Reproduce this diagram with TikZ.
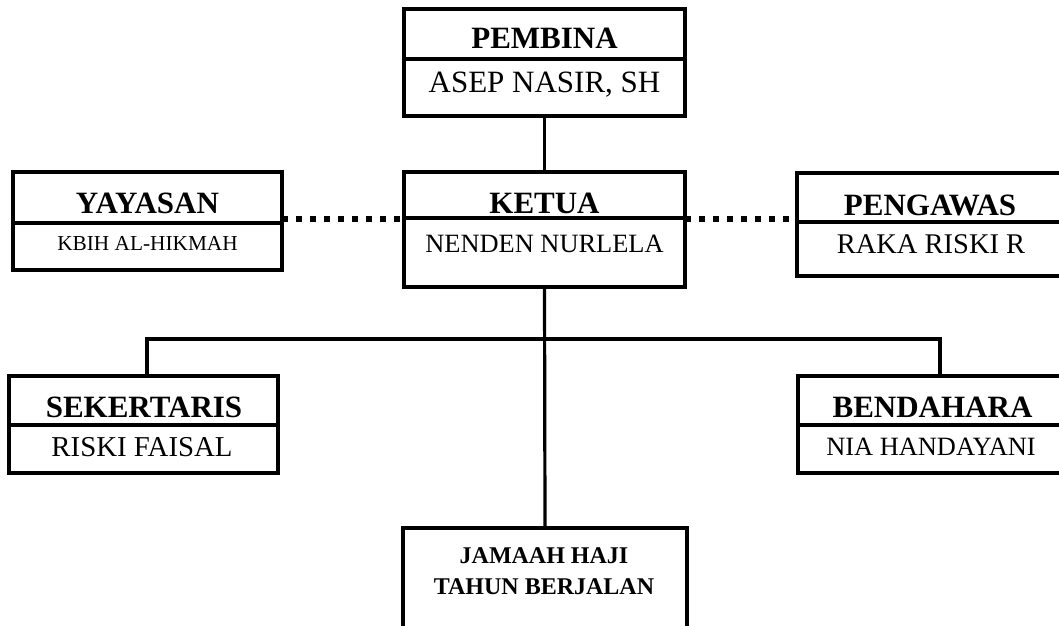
\documentclass[tikz,border=0pt]{standalone}
\usepackage{fontspec}
\setmainfont{Liberation Serif}
\begin{document}
\begin{tikzpicture}[x=1pt,y=-1pt,
  box/.style={draw, rectangle, line width=3.2pt, inner sep=0pt, outer sep=0pt},
  conn/.style={line width=3.2pt},
  dotline/.style={line width=5.5pt, dash pattern=on 6pt off 8pt},
  ttl/.style={anchor=base, inner sep=0pt, font=\fontsize{31}{31}\selectfont\bfseries},
  nm/.style={anchor=base, inner sep=0pt}]
\useasboundingbox (0,0) rectangle (1059,625);
\clip (0,0) rectangle (1059,625);
% boxes
\node[box, minimum width=281pt, minimum height=107pt] (pembina) at (544.5,62.5) {};
\node[box, minimum width=269pt, minimum height=98pt] (yayasan) at (147.5,221) {};
\node[box, minimum width=281pt, minimum height=115pt] (ketua) at (544.5,229.5) {};
\node[box, minimum width=266pt, minimum height=103pt] (pengawas) at (930,224.5) {};
\node[box, minimum width=269pt, minimum height=97pt] (sek) at (143.5,424.5) {};
\node[box, minimum width=268pt, minimum height=97pt] (bend) at (932,424.5) {};
\node[box, minimum width=284pt, minimum height=112pt] (jamaah) at (545,584) {};
% dividers
\draw[conn] (pembina.west |- 0,59) -- (pembina.east |- 0,59);
\draw[conn] (yayasan.west |- 0,223) -- (yayasan.east |- 0,223);
\draw[conn] (ketua.west |- 0,218) -- (ketua.east |- 0,218);
\draw[conn] (pengawas.west |- 0,222) -- (pengawas.east |- 0,222);
\draw[conn] (sek.west |- 0,425) -- (sek.east |- 0,425);
\draw[conn] (bend.west |- 0,425) -- (bend.east |- 0,425);
% texts
\node[ttl] (t1) at (544.5,48) {PEMBINA};
\node[nm, font=\fontsize{31}{31}\selectfont] (n1) at (544.5,92) {ASEP NASIR, SH};
\node[ttl] (t2) at (147.5,213) {YAYASAN};
\node[nm, font=\fontsize{21.3}{21.3}\selectfont] (n2) at (147.5,250) {KBIH AL-HIKMAH};
\node[ttl] (t3) at (544.5,213) {KETUA};
\node[nm, font=\fontsize{26.4}{26.4}\selectfont] (n3) at (544.5,252) {NENDEN NURLELA};
\node[ttl] (t4) at (930,215) {PENGAWAS};
\node[nm, font=\fontsize{28.5}{28.5}\selectfont] (n4) at (931,253) {RAKA RISKI R};
\node[ttl] (t5) at (144,417) {SEKERTARIS};
\node[nm, font=\fontsize{28.8}{28.8}\selectfont] (n5) at (142,456) {RISKI FAISAL};
\node[ttl] (t6) at (932.5,417) {BENDAHARA};
\node[nm, font=\fontsize{26.4}{26.4}\selectfont] (n6) at (931,455) {NIA HANDAYANI};
\node[nm, font=\fontsize{24}{24}\selectfont\bfseries] (n7) at (544,563) {JAMAAH HAJI};
\node[nm, font=\fontsize{24}{24}\selectfont\bfseries] (n8) at (544,594) {TAHUN BERJALAN};
% connectors
\draw[conn] (pembina.south) -- (ketua.north);
\coordinate (dl) at ([yshift=2pt]yayasan.east);
\draw[dotline] (dl) -- (dl -| ketua.west);
\draw[dotline] (ketua.east |- dl) -- (pengawas.west |- dl);
\draw[conn] (ketua.south) -- (jamaah.north);
\coordinate (bl) at (147,339);
\coordinate (bR) at (940,339);
\draw[conn] (bl |- sek.north) -- (bl) -- (bR) -- (bR |- bend.north);
\end{tikzpicture}
\end{document}
